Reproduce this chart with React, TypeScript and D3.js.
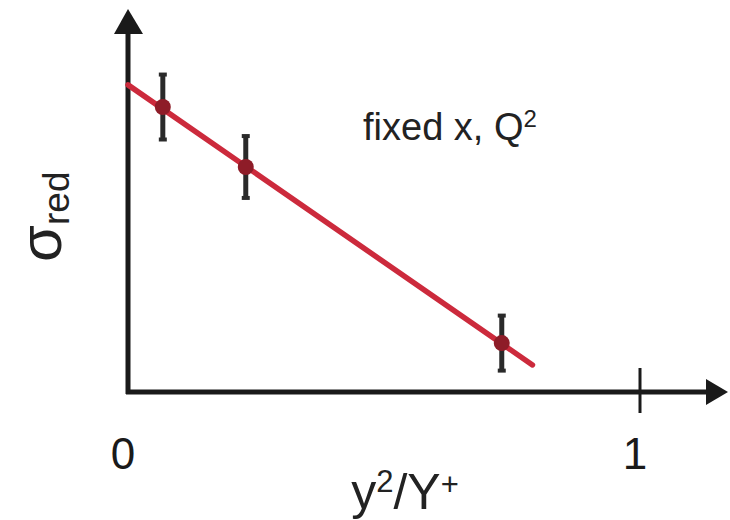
import React from 'react'
import * as d3 from 'd3'

// measured points (x = y²/Y+, y = reduced cross section, arbitrary units)
const pointX = [0.068, 0.23, 0.73]
const pointY = [0.746, 0.589, 0.128]
const pointErr = [0.085, 0.081, 0.072]

// straight-line fit
const fitIntercept = 0.804
const fitSlope = -0.928
const fitRange = [0, 0.79]

const xTicks = [0, 1]
const xTickLabels = ['0', '1']

const width = 730
const height = 520
const font = '"Liberation Sans", Arial, Helvetica, sans-serif'

export default function App() {
  const x = d3.scaleLinear().domain([0, 1]).range([128, 640])
  const y = d3.scaleLinear().domain([0, 1]).range([392, 10])

  const x0 = x(0)
  const y0 = y(0)

  const fitLine = d3.line<number>()
    .x((d) => x(d))
    .y((d) => y(fitIntercept + fitSlope * d))

  const points = pointX.map((px, i) => ({ x: px, y: pointY[i], e: pointErr[i] }))

  return (
    <svg
      width={width}
      height={height}
      style={{ position: 'fixed', top: 0, left: 0, background: '#fff' }}
      fontFamily={font}
    >
      {/* axes */}
      <g stroke="#1a1a1a" strokeWidth={5} fill="#1a1a1a">
        <line x1={x0} y1={y0 + 2} x2={x0} y2={28} />
        <line x1={x0 - 2} y1={y0} x2={708} y2={y0} />
        <path stroke="none" d={`M${x0},9 L${x0 - 14},34 L${x0 + 15},34 Z`} />
        <path stroke="none" d={`M728,${y0} L706,${y0 - 13} L706,${y0 + 13} Z`} />
        <line x1={x(1)} y1={y0 - 24} x2={x(1)} y2={y0 + 21} strokeWidth={3} />
      </g>

      {/* tick labels */}
      {xTicks.map((t, i) => (
        <text
          key={t}
          x={x(t) - 5}
          y={469}
          textAnchor="middle"
          fontSize={44}
          fill="#1a1a1a"
        >
          {xTickLabels[i]}
        </text>
      ))}

      {/* fit line */}
      <path
        d={fitLine(fitRange) || ''}
        stroke="#cc2a3c"
        strokeWidth={5.5}
        fill="none"
        strokeLinecap="round"
      />

      {/* error bars + points */}
      {points.map((p, i) => (
        <g key={i}>
          <line
            x1={x(p.x)}
            x2={x(p.x)}
            y1={y(p.y + p.e)}
            y2={y(p.y - p.e)}
            stroke="#2a2a2a"
            strokeWidth={5}
          />
          <line x1={x(p.x) - 4} x2={x(p.x) + 4} y1={y(p.y + p.e)} y2={y(p.y + p.e)} stroke="#2a2a2a" strokeWidth={4} />
          <line x1={x(p.x) - 4} x2={x(p.x) + 4} y1={y(p.y - p.e)} y2={y(p.y - p.e)} stroke="#2a2a2a" strokeWidth={4} />
          <circle cx={x(p.x)} cy={y(p.y)} r={8} fill="#8e1c28" />
        </g>
      ))}

      {/* annotation */}
      <text x={363} y={140} fontSize={38} fill="#222">
        fixed x, Q<tspan dy={-13} fontSize={24}>2</tspan>
      </text>

      {/* x axis title */}
      <text x={405} y={509} textAnchor="middle" fontSize={50} fill="#222">
        y<tspan dy={-17} fontSize={31}>2</tspan>
        <tspan dy={17}>/Y</tspan>
        <tspan dy={-14} fontSize={31}>+</tspan>
      </text>

      {/* y axis title */}
      <text
        transform="translate(61,262) rotate(-90)"
        fontSize={60}
        fill="#222"
      >
        σ<tspan dy={8} fontSize={37}>red</tspan>
      </text>
    </svg>
  )
}
